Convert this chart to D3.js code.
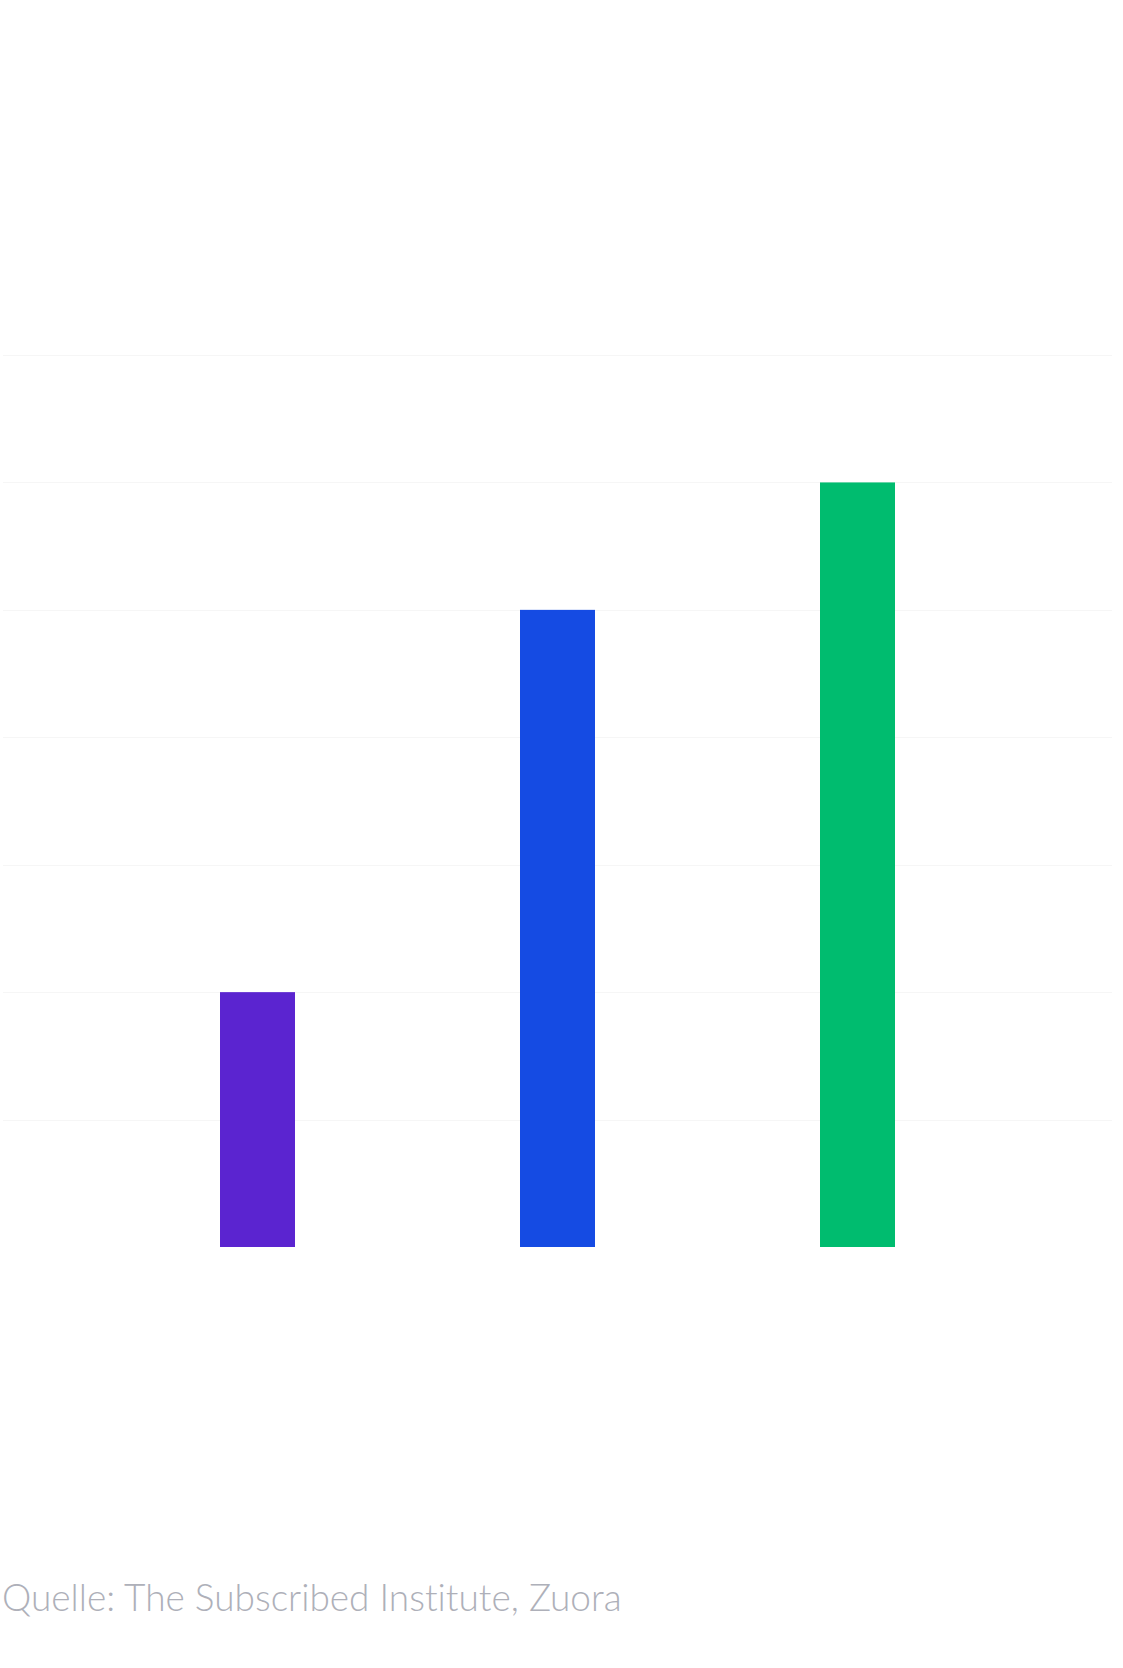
<!DOCTYPE html>
<html lang="de">
<head>
  <meta charset="UTF-8">
  <title>Quelle: The Subscribed Institute, Zuora</title>
  <script src="https://d3js.org/d3.v7.min.js"></script>
  <style>
    body {
      margin: 0;
      padding: 0;
      background: #fff;
    }
    .grid line {
      stroke: #f6f6f6;
      stroke-width: 1;
    }
    .source {
      font-family: Lato, "Open Sans", sans-serif;
      font-size: 37px;
      font-weight: 300;
      font-variant-ligatures: none;
      fill: #aeb0b9;
    }
  </style>
</head>
<body>
  <div id="chart"></div>
  <script>
    const width = 1123, height = 1668;

    // data (no labels shown, grid steps of 5)
    const categories = ["A", "B", "C"];
    const values = [10, 25, 30];
    const colors = ["#5b24d0", "#154be3", "#00bc6f"];
    const gridTicks = [5, 10, 15, 20, 25, 30, 35];
    const sourceText = "Quelle: The Subscribed Institute, Zuora";

    const svg = d3.select("#chart")
      .append("svg")
      .attr("width", width)
      .attr("height", height);

    const x = d3.scaleBand()
      .domain(categories)
      .range([107.5, 1007.5])
      .paddingInner(0.75)
      .paddingOuter(0.375);

    const y = d3.scaleLinear()
      .domain([0, 35])
      .range([1247, 355]);

    // faint horizontal grid lines
    svg.append("g")
      .attr("class", "grid")
      .selectAll("line")
      .data(gridTicks)
      .join("line")
      .attr("x1", 3)
      .attr("x2", 1112)
      .attr("y1", d => Math.round(y(d)) + 0.5)
      .attr("y2", d => Math.round(y(d)) + 0.5);

    svg.selectAll(".bar")
      .data(values)
      .join("rect")
      .attr("class", "bar")
      .attr("x", (d, i) => x(categories[i]))
      .attr("y", d => y(d))
      .attr("width", x.bandwidth())
      .attr("height", d => y(0) - y(d))
      .attr("fill", (d, i) => colors[i]);

    svg.append("text")
      .attr("class", "source")
      .attr("x", 2)
      .attr("y", 1611)
      .text(sourceText);
  </script>
</body>
</html>
